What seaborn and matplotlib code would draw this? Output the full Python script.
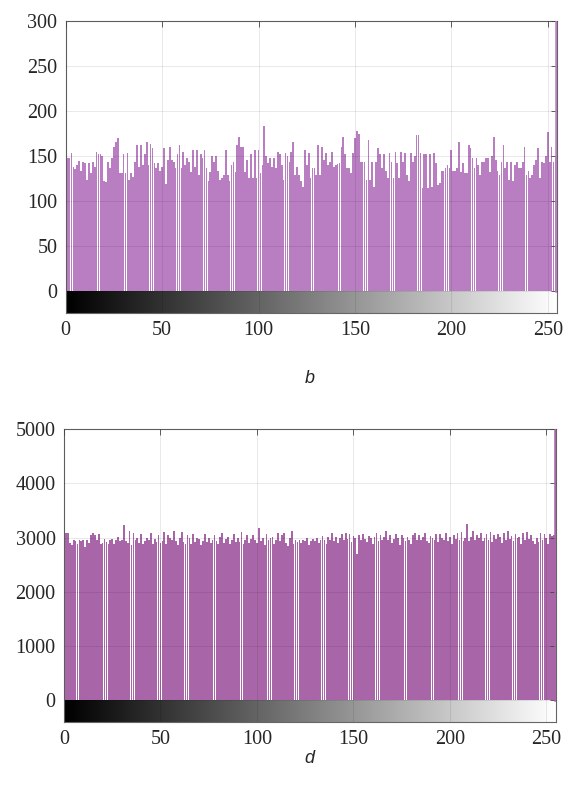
import numpy as np
import pandas as pd
import seaborn as sns
import matplotlib.pyplot as plt

# grey levels and histogram counts
levels = np.arange(256)

counts_b = [
    166, 148, 148, 153, 138, 136, 140, 145, 134, 143, 142, 124, 142, 131, 144, 138,
    155, 152, 152, 150, 122, 121, 144, 137, 148, 160, 166, 170, 131, 131, 152, 131,
    153, 124, 131, 127, 144, 162, 138, 162, 140, 152, 166, 140, 164, 159, 142, 137,
    142, 134, 138, 159, 119, 146, 160, 146, 144, 137, 152, 162, 137, 155, 140, 148,
    144, 133, 157, 138, 157, 129, 152, 148, 157, 137, 122, 133, 150, 144, 150, 134,
    124, 126, 129, 157, 129, 122, 140, 144, 133, 162, 171, 160, 160, 133, 146, 126,
    152, 126, 157, 126, 157, 131, 140, 183, 150, 142, 148, 138, 148, 137, 155, 152,
    140, 124, 153, 150, 144, 155, 166, 129, 138, 129, 122, 116, 157, 140, 153, 126,
    137, 137, 129, 162, 129, 160, 146, 153, 140, 144, 155, 138, 140, 141, 142, 160,
    171, 152, 137, 137, 131, 153, 170, 178, 175, 144, 144, 144, 124, 168, 124, 144,
    116, 144, 159, 152, 137, 152, 134, 126, 153, 144, 126, 155, 142, 126, 155, 144,
    153, 129, 122, 153, 144, 150, 173, 173, 153, 115, 152, 152, 115, 152, 116, 153,
    142, 118, 120, 134, 134, 137, 140, 137, 157, 134, 134, 137, 166, 133, 142, 131,
    131, 162, 159, 148, 137, 148, 140, 129, 144, 144, 148, 148, 133, 150, 171, 146,
    134, 129, 144, 162, 137, 144, 124, 144, 122, 140, 144, 137, 137, 144, 160, 129,
    134, 126, 129, 140, 146, 159, 126, 144, 142, 150, 177, 144, 160, 144, 150, 300,
]

counts_d = [
    3100, 3080, 3090, 2900, 2860, 2960, 2940, 2880, 2950, 2930, 2960, 2820, 2950, 2900, 3050, 3080,
    3040, 2950, 3060, 2880, 2900, 2980, 2920, 2880, 2960, 2970, 2880, 2950, 3010, 2930, 2950, 3230,
    2940, 2900, 3120, 2860, 3080, 2960, 2990, 2900, 3060, 2880, 2930, 3000, 2950, 3090, 2890, 2970,
    2920, 3050, 2900, 2940, 3100, 2880, 3050, 3000, 2960, 3120, 2930, 2870, 3000, 3100, 2920, 2890,
    3050, 2990, 2880, 3060, 2920, 3000, 2980, 2860, 2940, 3060, 2920, 3000, 2900, 2960, 3050, 2930,
    2880, 3020, 3080, 2900, 2980, 3010, 2880, 2950, 3060, 2920, 3000, 2910, 3100, 2880, 2960, 3040,
    2900, 2980, 3050, 2950, 2900, 3170, 2930, 2990, 2870, 3070, 2950, 2990, 3020, 2890, 2960, 3080,
    2940, 3050, 3090, 2900, 2850, 2990, 3130, 2880, 2950, 2920, 2960, 2900, 2960, 2940, 2990, 2870,
    2930, 2980, 2940, 2990, 2900, 2950, 3030, 2960, 2880, 3020, 2950, 3080, 2930, 3020, 2900, 2990,
    3060, 2950, 3080, 2980, 3060, 2920, 3030, 2990, 2700, 3040, 2950, 3060, 2980, 2920, 3030, 3000,
    2880, 3020, 3080, 2940, 3050, 2960, 3010, 3120, 2950, 3040, 2900, 2970, 3060, 3000, 2860, 3050,
    2990, 2930, 3020, 2950, 2880, 3040, 3090, 2950, 3050, 2960, 3010, 3080, 2940, 2900, 3030, 2990,
    2950, 3070, 2920, 3060, 3000, 2960, 3080, 2940, 3020, 2890, 3050, 2980, 3090, 2960, 3100, 2940,
    3000, 3260, 2930, 3020, 3120, 2960, 3040, 2990, 3080, 2940, 3000, 3060, 2950, 3100, 2920, 3040,
    2980, 3060, 3010, 2900, 3080, 2950, 3130, 2970, 3030, 2940, 3060, 2990, 3020, 2890, 3090, 2950,
    3110, 2970, 3040, 2930, 2880, 3000, 2920, 3080, 2960, 3060, 3000, 2880, 3060, 3030, 3050, 5000,
]

panels = [
    dict(counts=counts_b, ylim=(-24, 300), yticks=np.arange(0, 301, 50),
         color="#B97EC2", label="b",
         rect=[0.1147, 0.6068, 0.858, 0.3668], label_y=0.524),
    dict(counts=counts_d, ylim=(-400, 5000), yticks=np.arange(0, 5001, 1000),
         color="#A866A9", label="d",
         rect=[0.1117, 0.0933, 0.8586, 0.3674], label_y=0.047),
]

sns.set_style("white")
plt.rcParams["font.family"] = ["Liberation Serif", "DejaVu Serif"]

fig = plt.figure(figsize=(5.73, 7.96), dpi=100)
gradient = np.arange(256)[np.newaxis, :]

for p in panels:
    ax = fig.add_axes(p["rect"])
    df = pd.DataFrame({"level": levels, "count": p["counts"]})
    sns.barplot(data=df, x="level", y="count", native_scale=True,
                color=p["color"], width=0.9, linewidth=0, saturation=1,
                ax=ax, zorder=2)
    # the saturated last bin sits on the right border
    last = ax.patches[-1]
    last.set_edgecolor(p["color"])
    last.set_linewidth(1.8)
    last.set_zorder(4)
    # grey-level strip under the zero line
    ax.imshow(gradient, cmap="gray", aspect="auto",
              extent=[0, 255, p["ylim"][0], 0], zorder=1)
    ax.set_xlim(0, 255)
    ax.set_ylim(*p["ylim"])
    ax.set_xticks(np.arange(0, 251, 50))
    ax.set_yticks(p["yticks"])
    ax.set_xlabel("")
    ax.set_ylabel("")
    ax.grid(True, color="#000000", alpha=0.09, linewidth=0.7, zorder=3)
    ax.set_axisbelow(False)
    ax.tick_params(direction="in", top=True, right=True, length=4,
                   width=0.6, color="#444444", labelsize=14.5, pad=6)
    for s in ax.spines.values():
        s.set_color("#666666")
        s.set_linewidth(0.8)
    fig.text(0.54, p["label_y"], p["label"], ha="center", va="center",
             fontsize=13, style="italic", family="Liberation Sans")

fig.savefig("out.png", dpi=100)
